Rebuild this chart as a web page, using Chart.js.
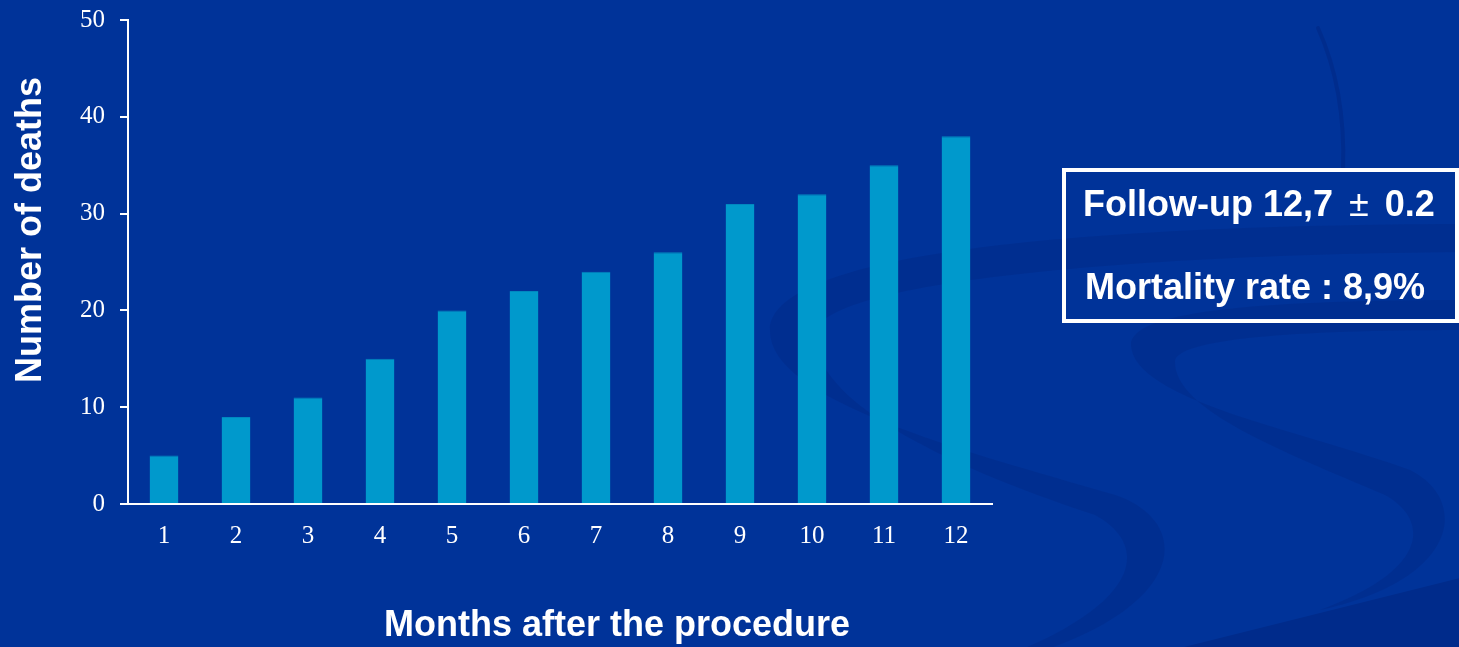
<!DOCTYPE html>
<html>
<head>
<meta charset="utf-8">
<script src="https://cdn.jsdelivr.net/npm/chart.js@4/dist/chart.umd.min.js"></script>
<style>
  html, body { margin: 0; padding: 0; background: #003399; }
  #wrap { width: 1459px; height: 647px; position: relative; }
</style>
</head>
<body>
<div id="wrap"><canvas id="c" width="1459" height="647"></canvas></div>
<script>
// Deaths per month after the procedure
const months = ['1', '2', '3', '4', '5', '6', '7', '8', '9', '10', '11', '12'];
const deaths = [5, 9, 11, 15, 20, 22, 24, 26, 31, 32, 35, 38];
const yTicks = [0, 10, 20, 30, 40, 50];

const yTitle = 'Number of deaths';
const xTitle = 'Months after the procedure';
const followUp = ['Follow-up 12,7', '\u00B1', '0.2'];
const mortality = 'Mortality rate : 8,9%';

const BG = '#003399';
const BAR = '#0099cc';
const SHADE = 'rgba(0, 28, 110, 0.2)';
const BOLD = 'bold 36px "Liberation Sans", Arial, sans-serif';
const PLAIN = '36px "Liberation Sans", Arial, sans-serif';

// Slide background with faint swooshes
const backdrop = {
  id: 'backdrop',
  beforeDraw(chart) {
    const ctx = chart.ctx;
    ctx.save();
    ctx.fillStyle = BG;
    ctx.fillRect(0, 0, chart.width, chart.height);

    ctx.fillStyle = SHADE;
    // large swoosh curling round behind the last bars
    ctx.beginPath();
    ctx.moveTo(1470, 224);
    ctx.bezierCurveTo(1100, 225, 772, 250, 770, 330);
    ctx.bezierCurveTo(768, 400, 960, 450, 1115, 495);
    ctx.bezierCurveTo(1190, 520, 1190, 600, 1045, 650);
    ctx.lineTo(1020, 650);
    ctx.bezierCurveTo(1140, 600, 1150, 545, 1095, 515);
    ctx.bezierCurveTo(935, 462, 815, 400, 815, 335);
    ctx.bezierCurveTo(815, 285, 1100, 255, 1470, 252);
    ctx.closePath();
    ctx.fill();

    // second swoosh on the right
    ctx.beginPath();
    ctx.moveTo(1470, 300);
    ctx.bezierCurveTo(1250, 300, 1131, 312, 1131, 345);
    ctx.bezierCurveTo(1133, 400, 1300, 430, 1410, 470);
    ctx.bezierCurveTo(1470, 500, 1460, 580, 1320, 610);
    ctx.bezierCurveTo(1430, 570, 1430, 520, 1385, 495);
    ctx.bezierCurveTo(1280, 450, 1175, 410, 1175, 362);
    ctx.bezierCurveTo(1175, 338, 1300, 330, 1470, 330);
    ctx.closePath();
    ctx.fill();

    // band across the bottom right corner
    ctx.fillStyle = 'rgba(0, 28, 110, 0.3)';
    ctx.beginPath();
    ctx.moveTo(1180, 648);
    ctx.lineTo(1460, 578);
    ctx.lineTo(1460, 648);
    ctx.closePath();
    ctx.fill();

    // thin stroke near the top right
    ctx.strokeStyle = 'rgba(0, 28, 110, 0.28)';
    ctx.lineWidth = 4;
    ctx.lineCap = 'round';
    ctx.beginPath();
    ctx.moveTo(1318, 28);
    ctx.quadraticCurveTo(1346, 90, 1343, 170);
    ctx.stroke();
    ctx.restore();
  }
};

// Axis titles and the summary box
const annotations = {
  id: 'annotations',
  afterDraw(chart) {
    const ctx = chart.ctx;
    ctx.save();
    ctx.fillStyle = '#ffffff';
    ctx.font = BOLD;
    ctx.textAlign = 'center';
    ctx.textBaseline = 'middle';

    ctx.save();
    ctx.translate(31, 230);
    ctx.rotate(-Math.PI / 2);
    ctx.fillText(yTitle, 0, 0);
    ctx.restore();

    ctx.fillText(xTitle, 617, 626);

    // summary box
    ctx.strokeStyle = '#ffffff';
    ctx.lineWidth = 4;
    ctx.strokeRect(1064, 170, 393, 151);
    ctx.textBaseline = 'alphabetic';

    // first line: bold text with a plain plus-minus sign between wider gaps
    ctx.textAlign = 'left';
    let x = 1083;
    ctx.fillText(followUp[0], x, 216);
    x += ctx.measureText(followUp[0]).width + 16;
    ctx.font = PLAIN;
    ctx.fillText(followUp[1], x, 216);
    x += ctx.measureText(followUp[1]).width + 16;
    ctx.font = BOLD;
    ctx.fillText(followUp[2], x, 216);

    ctx.textAlign = 'center';
    ctx.fillText(mortality, 1255, 299);
    ctx.restore();
  }
};

new Chart(document.getElementById('c'), {
  type: 'bar',
  data: {
    labels: months,
    datasets: [{
      data: deaths,
      backgroundColor: BAR,
      borderColor: '#0088c0',
      borderWidth: { top: 1, left: 0, right: 0, bottom: 0 },
      borderSkipped: 'start',
      barPercentage: 0.4,
      categoryPercentage: 1.0
    }]
  },
  options: {
    responsive: false,
    animation: false,
    devicePixelRatio: 1,
    layout: { padding: { top: 20, right: 467, left: 0, bottom: 0 } },
    plugins: {
      legend: { display: false },
      tooltip: { enabled: false },
      title: { display: false }
    },
    scales: {
      x: {
        afterFit(scale) { scale.height = 143; },
        grid: { display: false, drawTicks: false },
        border: { display: true, color: '#ffffff', width: 2 },
        ticks: {
          color: '#ffffff',
          padding: 17,
          font: { family: '"Liberation Serif", "Times New Roman", serif', size: 25 }
        }
      },
      y: {
        min: 0,
        max: 50,
        afterFit(scale) {
          scale.width = 128;
          scale.paddingTop = 0;
          scale.paddingBottom = 0;
        },
        afterBuildTicks(scale) { scale.ticks = yTicks.map(v => ({ value: v })); },
        grid: {
          drawOnChartArea: false,
          drawTicks: true,
          tickLength: 8,
          color: '#ffffff',
          lineWidth: 2
        },
        border: { display: true, color: '#ffffff', width: 2 },
        ticks: {
          color: '#ffffff',
          padding: 15,
          font: { family: '"Liberation Serif", "Times New Roman", serif', size: 25 }
        }
      }
    }
  },
  plugins: [backdrop, annotations]
});
</script>
</body>
</html>
